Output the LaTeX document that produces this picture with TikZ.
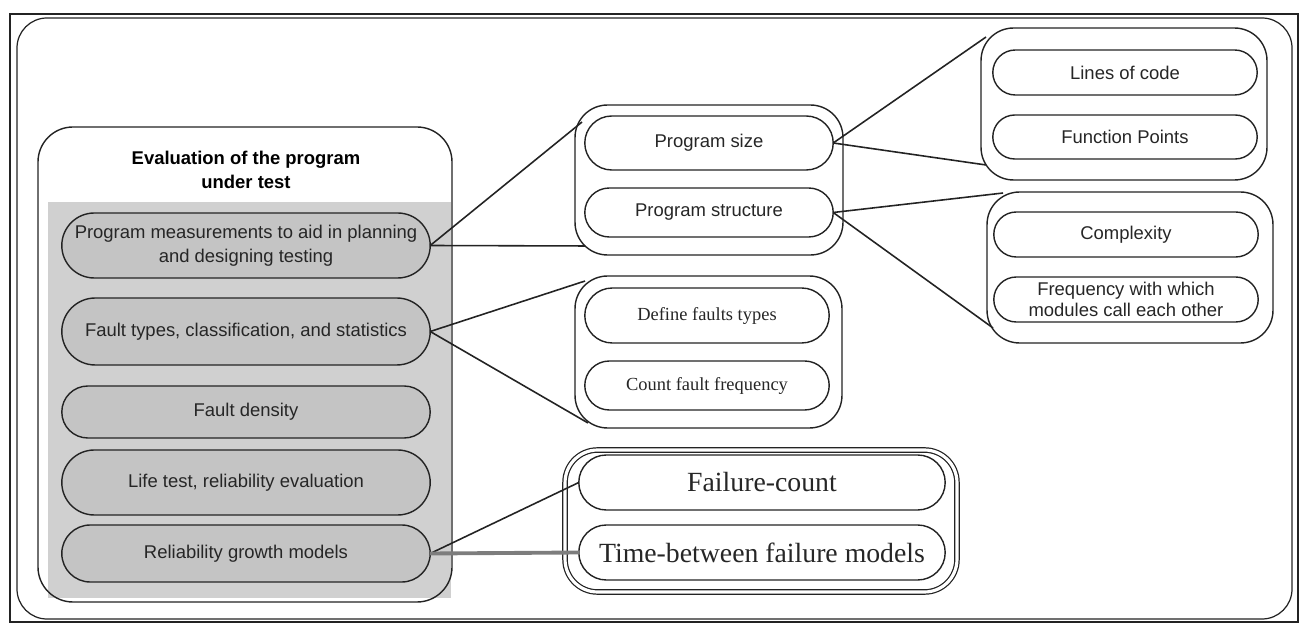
\documentclass[tikz,border=0pt]{standalone}
\usepackage{fontspec}
\setmainfont{Liberation Sans}
\newfontfamily\timesface{Liberation Serif}
\usepackage{tikz}
\usetikzlibrary{positioning,shapes.misc}
\definecolor{LineDark}{RGB}{35, 35, 35}
\definecolor{PanelGray}{RGB}{208, 208, 208}
\definecolor{PillGray}{RGB}{196, 196, 196}
\definecolor{LinkGray}{RGB}{125, 125, 125}

\begin{document}
\begin{tikzpicture}[x=0.02cm, y=-0.02cm,
    pill/.style={rounded rectangle, draw=LineDark, line width=0.8pt, align=center,
        inner sep=1pt, outer sep=0pt, text=black!85, font=\fontsize{10.5}{12.3}\selectfont},
    graypill/.style={pill, fill=PillGray, minimum width=7.44cm,
        font=\fontsize{10.5}{13.6}\selectfont},
    seriftext/.style={font=\timesface\fontsize{10.5}{12.3}\selectfont},
    bigserif/.style={font=\timesface\fontsize{15.8}{18}\selectfont},
    groupbox/.style={draw=LineDark, line width=0.8pt, rounded corners=0.65cm, inner sep=0pt, outer sep=0pt},
    link/.style={draw=LineDark, line width=0.9pt}]
    \useasboundingbox (0,0) rectangle (1305,624);
    % frame
    \draw[LineDark, line width=1.6pt] (10,14) rectangle (1298,622);
    \draw[LineDark, line width=0.7pt, rounded corners=0.6cm] (17,18) rectangle (1292,619);
    % left panel
    \fill[white, rounded corners=0.7cm] (38,127) rectangle (452,602);
    \fill[PanelGray] (48,202) rectangle (451,598);
    \draw[LineDark, line width=0.8pt, rounded corners=0.7cm] (38,127) rectangle (452,602);
    \node[align=center, font=\bfseries\fontsize{10.5}{13.6}\selectfont] (title) at (246,170)
        {Evaluation of the program\\under test};
    \node[graypill, minimum height=1.3cm] (measure) at (246,245.5)
        {Program measurements to aid in planning\\and designing testing};
    \node[graypill, minimum height=1.34cm] (faulttypes) at (246,331.5)
        {Fault types, classification, and statistics};
    \node[graypill, minimum height=1.04cm] (density) at (246,412) {Fault density};
    \node[graypill, minimum height=1.3cm] (lifetest) at (246,482.5) {Life test, reliability evaluation};
    \node[graypill, minimum height=1.14cm] (growth) at (246,553.5) {Reliability growth models};
    % program group
    \node[groupbox, minimum width=5.36cm, minimum height=3.0cm] (progbox) at (709,180) {};
    \node[pill, minimum width=5.04cm, minimum height=1.08cm] (progsize) at (709,143) {Program size};
    \node[pill, minimum width=5.04cm, minimum height=0.98cm] (progstruct) at (709,212.5) {Program structure};
    % fault group
    \node[groupbox, minimum width=5.34cm, minimum height=3.04cm] (faultbox) at (708.5,352) {};
    \node[pill, seriftext, minimum width=4.96cm, minimum height=1.1cm] (definefault) at (707,315.5)
        {Define faults types};
    \node[pill, seriftext, minimum width=4.96cm, minimum height=0.98cm] (countfault) at (707,385.5)
        {Count fault frequency};
    % size group
    \node[groupbox, minimum width=5.72cm, minimum height=3.04cm] (sizebox) at (1124,104) {};
    \node[pill, minimum width=5.36cm, minimum height=0.9cm] (loc) at (1125,72.5) {Lines of code};
    \node[pill, minimum width=5.36cm, minimum height=0.88cm] (fpoints) at (1125,137) {Function Points};
    % structure group
    \node[groupbox, minimum width=5.72cm, minimum height=3.02cm] (structbox) at (1130,267.5) {};
    \node[pill, minimum width=5.36cm, minimum height=0.9cm] (complexity) at (1126,234.5) {Complexity};
    \node[pill, minimum width=5.36cm, minimum height=0.9cm] (callfreq) at (1126,299.5)
        {Frequency with which\\modules call each other};
    % growth group
    \node[groupbox, double, double distance=1.8pt, line width=0.7pt, minimum width=7.84cm,
        minimum height=2.84cm] (growthbox) at (761,521) {};
    \node[pill, bigserif, minimum width=7.4cm, minimum height=1.1cm] (failcount)
        at (762,482.5) {Failure-count};
    \node[pill, bigserif, minimum width=7.4cm, minimum height=1.1cm] (timebetween)
        at (762,552.5) {Time-between failure models};
    % links
    \draw[link] (measure.east) -- ([shift={(7,17)}]progbox.north west);
    \draw[link] (measure.east) -- ([shift={(10,-9)}]progbox.south west);
    \draw[link] (faulttypes.east) -- ([shift={(10,5)}]faultbox.north west);
    \draw[link] (faulttypes.east) -- ([shift={(13,-5)}]faultbox.south west);
    \draw[link] (progsize.east) -- ([shift={(5,9)}]sizebox.north west);
    \draw[link] (progsize.east) -- ([shift={(5,-15)}]sizebox.south west);
    \draw[link] (progstruct.east) -- ([shift={(16,1)}]structbox.north west);
    \draw[link] (progstruct.east) -- ([shift={(6,-15)}]structbox.south west);
    \draw[link] (growth.east) -- (failcount.west);
    \draw[LinkGray, line width=2.2pt] (growth.east) -- (timebetween.west);
\end{tikzpicture}
\end{document}
